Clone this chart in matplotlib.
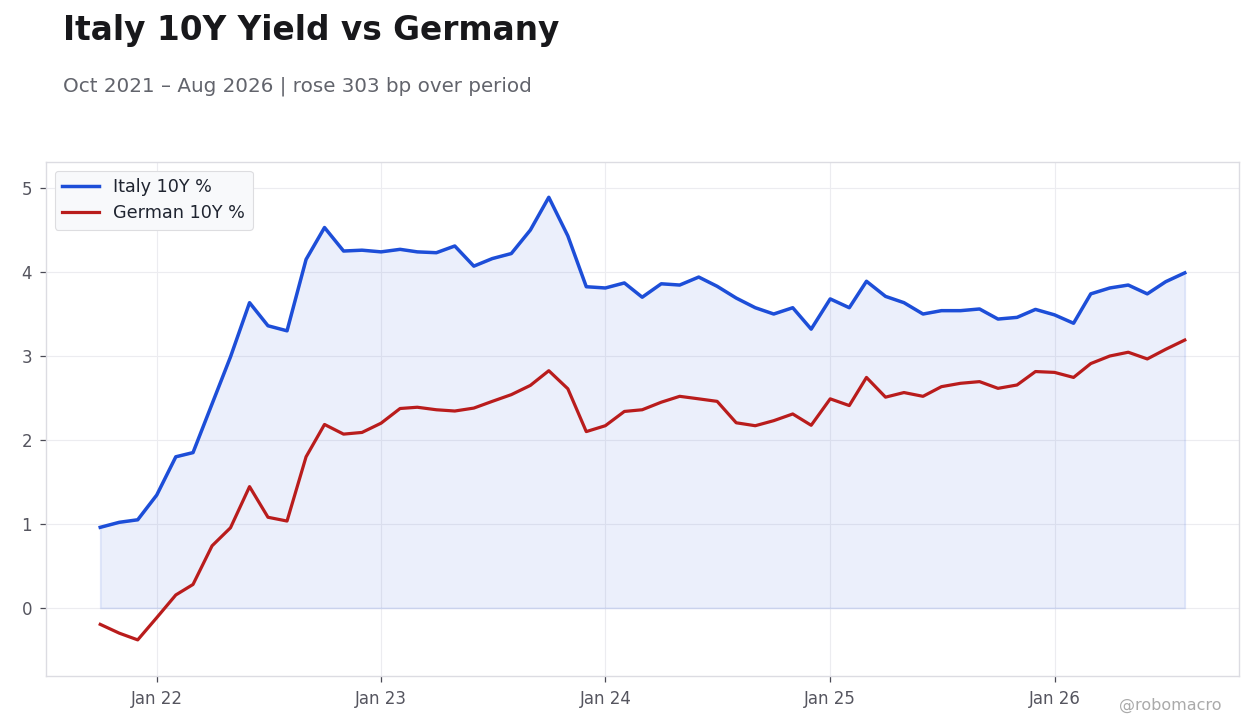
import matplotlib
matplotlib.use("Agg")
import matplotlib.pyplot as plt
import matplotlib.dates as mdates
import pandas as pd

start_month = "2021-10-01"
n_months = 59

italy_10y = [
    0.96, 1.02, 1.05, 1.345, 1.80, 1.85, 2.43, 2.99, 3.635, 3.36, 3.30, 4.15,
    4.53, 4.25, 4.26, 4.24, 4.27, 4.24, 4.23, 4.31, 4.07, 4.16, 4.22, 4.50,
    4.89, 4.43, 3.825, 3.81, 3.87, 3.70, 3.86, 3.845, 3.94, 3.83, 3.69, 3.575,
    3.50, 3.575, 3.32, 3.68, 3.575, 3.89, 3.71, 3.635, 3.50, 3.54, 3.54, 3.56,
    3.44, 3.46, 3.555, 3.49, 3.39, 3.74, 3.81, 3.845, 3.74, 3.885, 3.99,
]
german_10y = [
    -0.195, -0.30, -0.38, -0.115, 0.155, 0.28, 0.74, 0.955, 1.445, 1.08, 1.035, 1.80,
    2.185, 2.07, 2.09, 2.20, 2.375, 2.39, 2.36, 2.345, 2.38, 2.46, 2.54, 2.65,
    2.825, 2.61, 2.10, 2.17, 2.34, 2.36, 2.45, 2.52, 2.49, 2.46, 2.205, 2.17,
    2.23, 2.31, 2.175, 2.49, 2.41, 2.745, 2.51, 2.565, 2.52, 2.635, 2.675, 2.695,
    2.615, 2.655, 2.815, 2.805, 2.745, 2.91, 3.00, 3.045, 2.965, 3.08, 3.19,
]

title = "Italy 10Y Yield vs Germany"
subtitle = "Oct 2021 \u2013 Aug 2026 | rose 303 bp over period"
series_labels = ["Italy 10Y %", "German 10Y %"]
watermark = "@robomacro"

dates = pd.date_range(start_month, periods=n_months, freq="MS")

plt.rcParams["font.family"] = ["DejaVu Sans"]

fig = plt.figure(figsize=(12.6, 7.28), dpi=100)
ax = fig.add_axes([46 / 1260, 1 - 676 / 728, (1239 - 46) / 1260, (676 - 162) / 728])

blue = "#1d4ed8"
red = "#b91c1c"

ax.fill_between(dates, italy_10y, 0, facecolor=(0.114, 0.306, 0.847, 0.085),
                edgecolor=(0.114, 0.306, 0.847, 0.12), linewidth=1.2, zorder=1)
ax.plot(dates, italy_10y, color=blue, lw=2.5, label=series_labels[0], zorder=3)
ax.plot(dates, german_10y, color=red, lw=2.3, label=series_labels[1], zorder=3)

ax.set_ylim(-0.81, 5.31)
ax.margins(x=0.05)
ax.set_yticks([0, 1, 2, 3, 4, 5])
ax.xaxis.set_major_locator(mdates.YearLocator(month=1, day=1))
ax.xaxis.set_major_formatter(mdates.DateFormatter("%b %y"))

ax.grid(True, color="#ececf0", lw=0.8, zorder=0)
ax.set_axisbelow(True)
for s in ax.spines.values():
    s.set_color("#dcdce2")
    s.set_linewidth(1.0)
ax.tick_params(axis="both", colors="#4a4a55", labelsize=12, length=4, width=0.9,
               labelcolor="#55555f", pad=6)

leg = ax.legend(loc="upper left", fontsize=12.7, frameon=True, fancybox=True,
                facecolor="#f8f9fb", edgecolor="#dddde0", framealpha=1.0,
                borderpad=0.42, handlelength=2.1, handletextpad=0.8,
                labelspacing=0.45, borderaxespad=0.5)
leg.get_frame().set_linewidth(0.8)
for t in leg.get_texts():
    t.set_color("#1f2430")

fig.text(63 / 1260, 1 - 40 / 728, title, fontsize=23.6, fontweight="bold",
         color="#18181b", ha="left", va="baseline")
fig.text(63 / 1260, 1 - 92 / 728, subtitle, fontsize=14.3, color="#62646c",
         ha="left", va="baseline")
fig.text(1221 / 1260, 1 - 710 / 728, watermark, fontsize=11.5, color="#aaaaaa",
         ha="right", va="baseline")

fig.savefig("out.png", dpi=100, facecolor="white")
